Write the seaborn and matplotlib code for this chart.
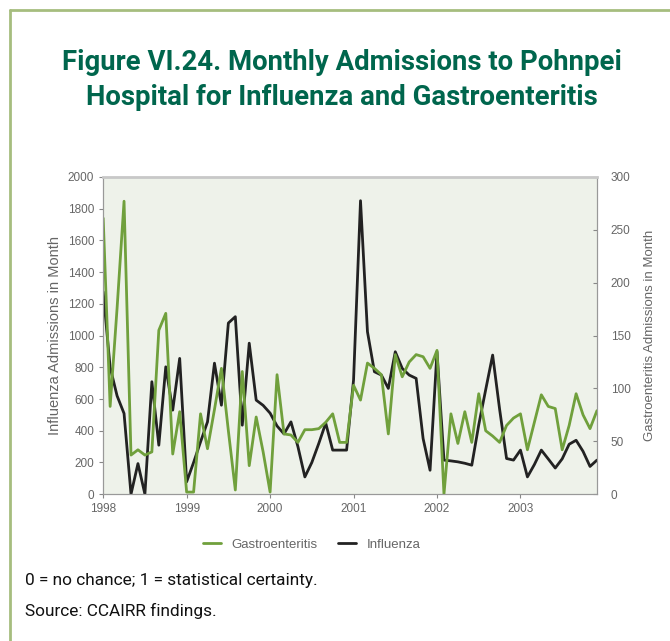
import seaborn as sns
import matplotlib.pyplot as plt
from matplotlib.lines import Line2D

# data (monthly, Jan 1998 - Dec 2003)
years = ["1998", "1999", "2000", "2001", "2002", "2003"]
influenza = [1276, 800, 620, 509, 0, 193, 0, 709, 309, 803, 530, 856,
             78, 200, 330, 456, 826, 561, 1079, 1119, 435, 952, 593, 560,
             511, 430, 380, 456, 300, 109, 200, 320, 448, 278, 278, 278,
             720, 1850, 1024, 772, 751, 667, 898, 793, 751, 730, 351, 151,
             898, 215, 210, 204, 195, 183, 437, 659, 877, 536, 225, 215,
             278, 109, 187, 278, 222, 165, 223, 315, 340, 270, 175, 215]
gastro = [261, 83, 176, 277, 37, 42, 37, 40, 155, 171, 38, 78,
          2, 2, 76, 43, 80, 119, 60, 4, 116, 27, 73, 40,
          2, 113, 57, 56, 49, 61, 61, 62, 68, 76, 49, 49,
          103, 89, 124, 119, 113, 57, 132, 111, 125, 132, 130, 119,
          136, 0, 76, 48, 78, 49, 95, 60, 55, 49, 65, 72,
          76, 42, 68, 94, 83, 81, 42, 65, 95, 75, 62, 79]
months = list(range(len(influenza)))

sns.set_theme(style="ticks")
plt.rcParams['font.family'] = ['Liberation Sans', 'DejaVu Sans']

green = "#70a03c"
black = "#222222"
grey = "#666666"

fig = plt.figure(figsize=(6.7, 6.41), dpi=100)
ax = fig.add_axes([0.154, 0.229, 0.737, 0.495])
ax.set_facecolor("#eef2ea")
ax2 = ax.twinx()

sns.lineplot(x=months, y=influenza, ax=ax, color=black, linewidth=2)
sns.lineplot(x=months, y=gastro, ax=ax2, color=green, linewidth=2)

ax.set_xlim(0, 71)
ax.set_ylim(0, 2000)
ax2.set_ylim(0, 300)
ax.set_yticks(range(0, 2001, 200))
ax2.set_yticks(range(0, 301, 50))
ax.set_xticks(range(0, 72, 12))
ax.set_xticklabels(years)

for a in (ax, ax2):
    a.tick_params(labelsize=8.5, colors="#888888", labelcolor=grey, length=3, width=0.8)
    for s in a.spines.values():
        s.set_color("#999999")
        s.set_linewidth(0.8)
ax2.spines["top"].set_color("#c8c8c8")
ax2.spines["top"].set_linewidth(2)
ax2.tick_params(axis="y", direction="in", pad=10)

ax.set_ylabel("Influenza Admissions in Month", fontsize=10.5, color=grey)
ax2.set_ylabel("Gastroenteritis Admissions in Month", fontsize=9.5, color=grey, rotation=90)
ax.yaxis.set_label_coords(-0.083, 0.5)
ax2.yaxis.set_label_coords(1.095, 0.5)

handles = [Line2D([], [], color=green, lw=2), Line2D([], [], color=black, lw=2)]
fig.legend(handles, ["Gastroenteritis", "Influenza"], loc="center", bbox_to_anchor=(0.465, 0.15),
           ncol=2, frameon=False, fontsize=9.5, handlelength=1.4, columnspacing=1.5,
           labelcolor=grey)

title_font = dict(family=["Roboto", "DejaVu Sans"], fontsize=19.8, fontweight="bold", color="#00664d")
fig.text(0.51, 0.903, "Figure VI.24. Monthly Admissions to Pohnpei", ha="center", va="center",
         **title_font)
fig.text(0.51, 0.848, "Hospital for Influenza and Gastroenteritis", ha="center", va="center",
         **title_font)

foot_font = dict(family=["Roboto", "DejaVu Sans"], fontsize=12.4, color="#111111")
fig.text(0.037, 0.095, "0 = no chance; 1 = statistical certainty.", ha="left", va="center",
         **foot_font)
fig.text(0.037, 0.047, "Source: CCAIRR findings.", ha="left", va="center", **foot_font)

# frame around the figure box
border = "#a6bd7e"
fig.add_artist(Line2D([10 / 670, 1], [1 - 10 / 641, 1 - 10 / 641], color=border, lw=2))
fig.add_artist(Line2D([10 / 670, 10 / 670], [0, 1 - 10 / 641], color=border, lw=2))

plt.savefig("out.png", dpi=100)
